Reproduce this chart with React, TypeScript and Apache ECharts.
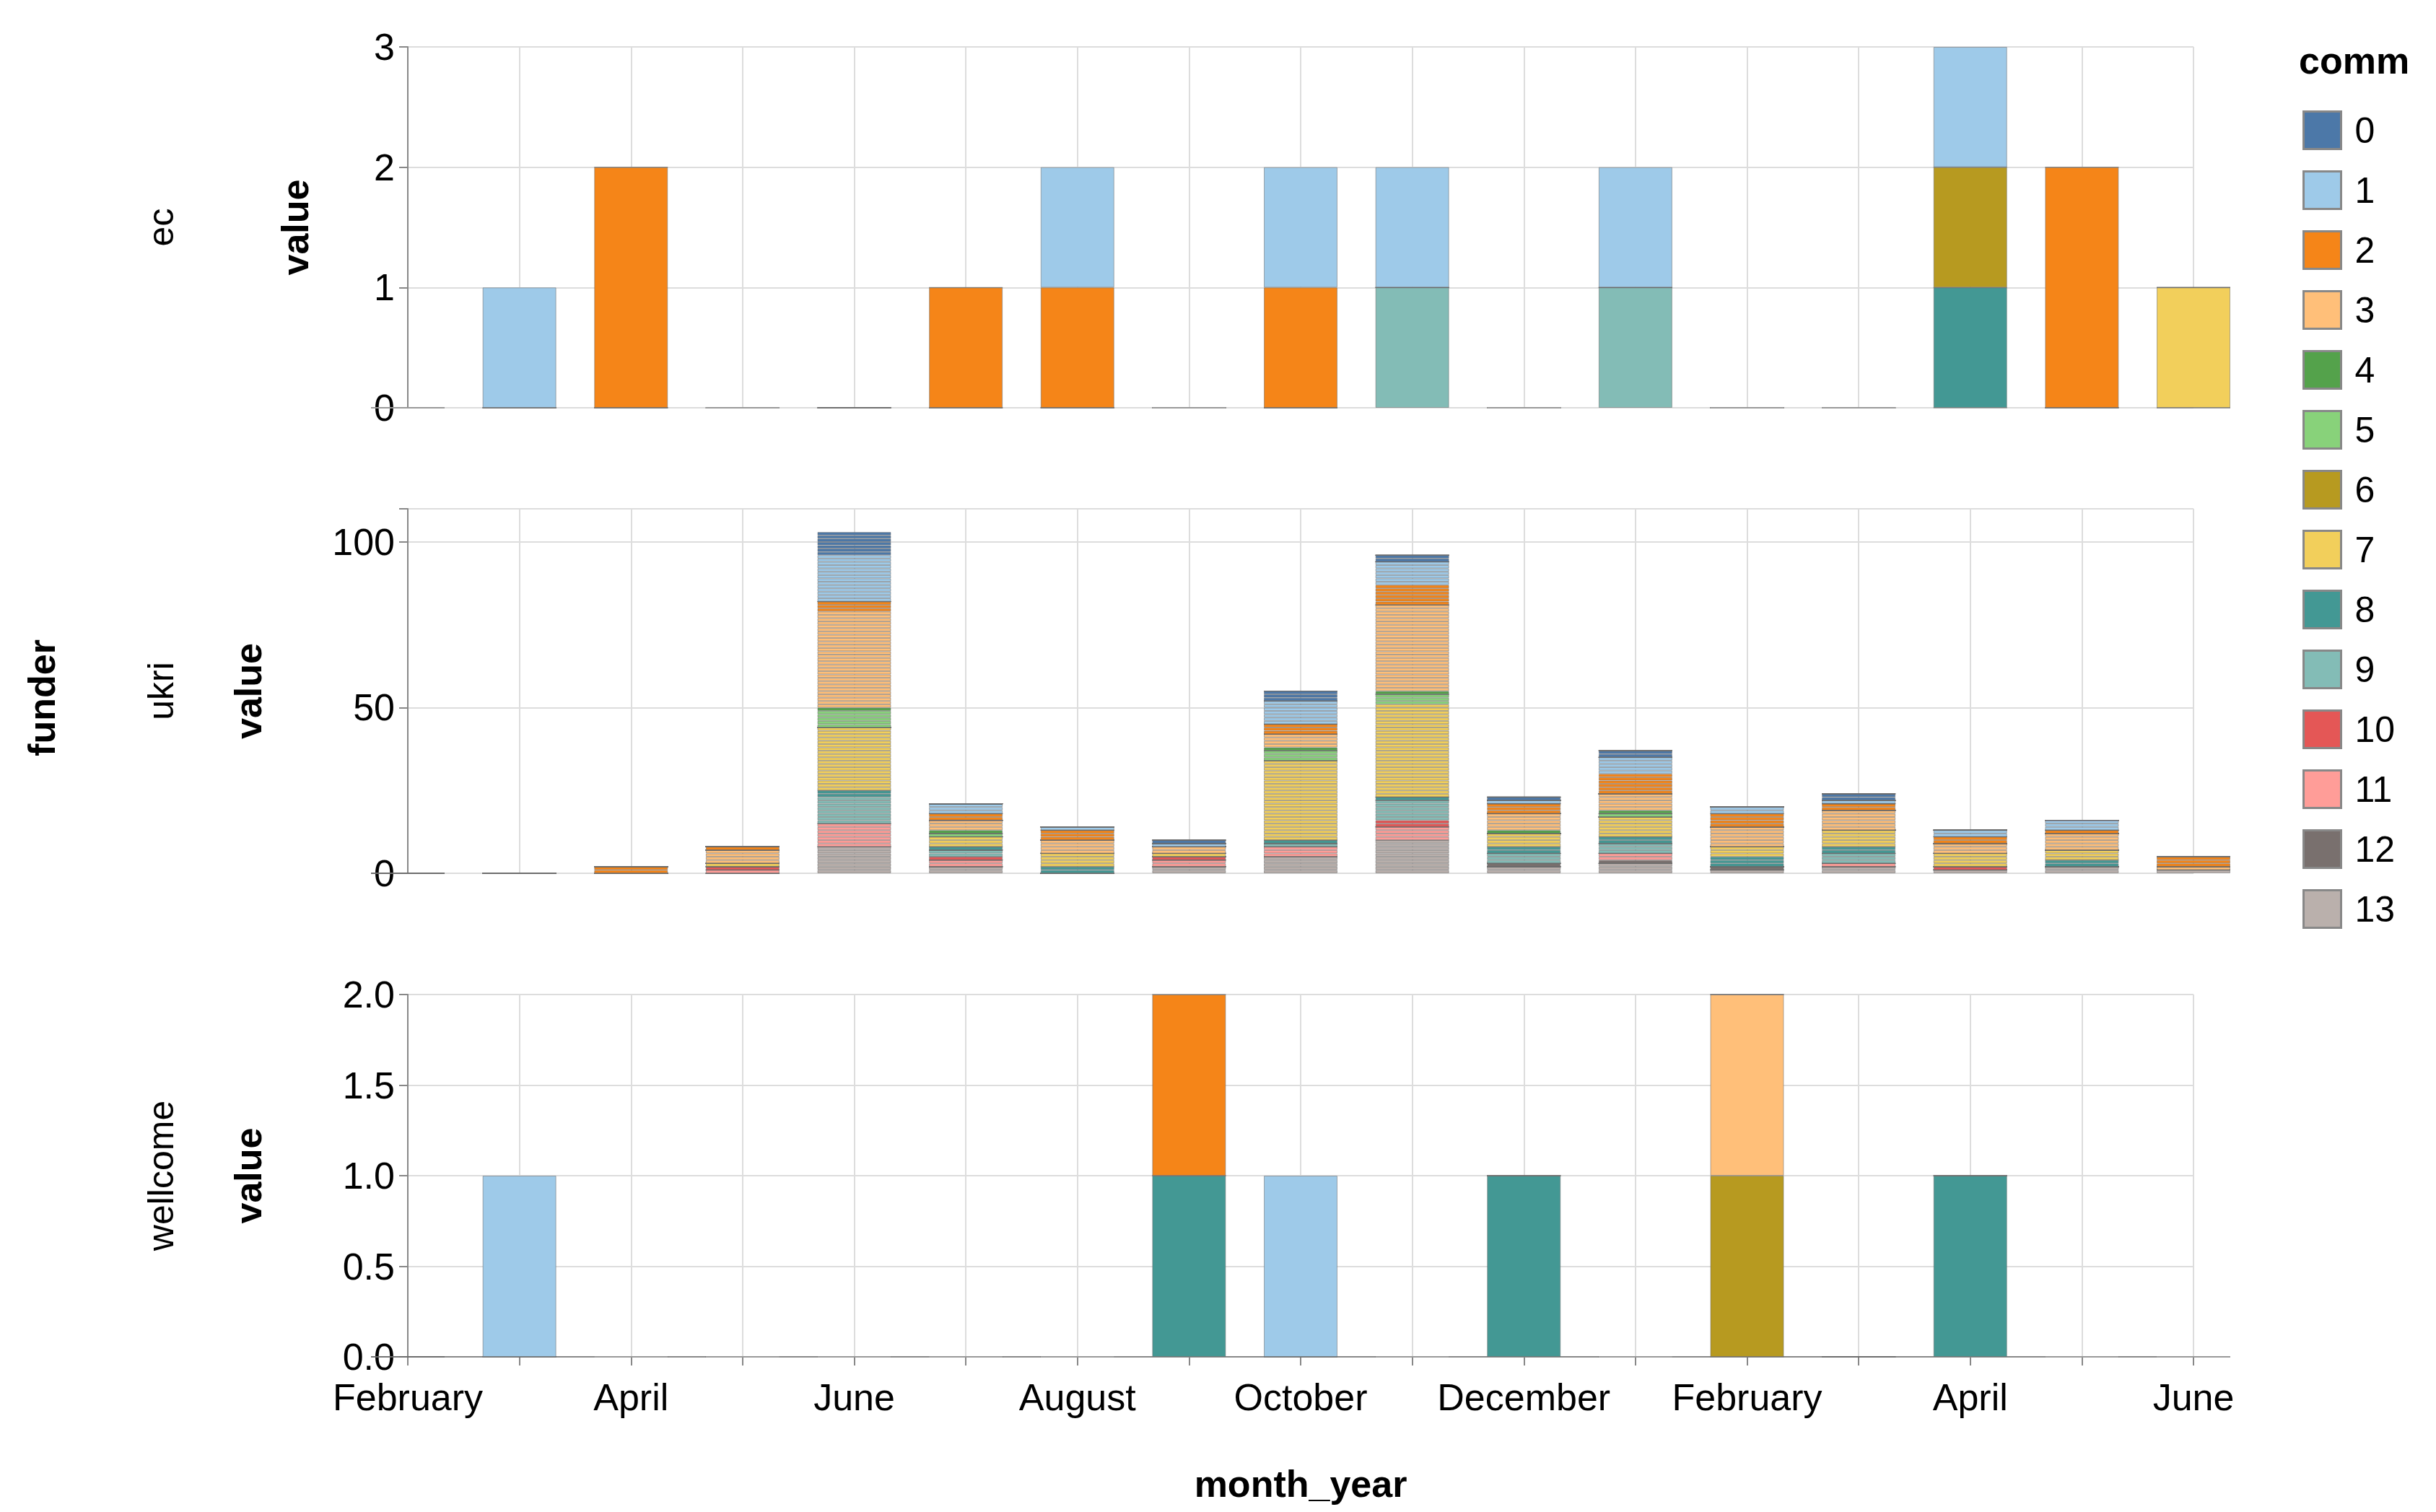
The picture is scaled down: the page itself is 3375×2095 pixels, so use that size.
import { useEffect, useRef } from "react";
import * as echarts from "echarts";

const months = ["February", "March", "April", "May", "June", "July", "August", "September", "October", "November", "December", "January", "February", "March", "April", "May", "June"];
const comms = ["0", "1", "2", "3", "4", "5", "6", "7", "8", "9", "10", "11", "12", "13"];
const colors = ["#4c78a8", "#9ecae9", "#f58518", "#ffbf79", "#54a24b", "#88d27a", "#b79a20", "#f2cf5b", "#439894", "#83bcb6", "#e45756", "#ff9d98", "#79706e", "#bab0ac"];

// counts per month (index into months) per comm
const ecCounts: Record<string, number[]> = {
  "1": [0, 1, 0, 0, 0, 0, 1, 0, 1, 1, 0, 1, 0, 0, 1, 0, 0],
  "2": [0, 0, 2, 0, 0, 1, 1, 0, 1, 0, 0, 0, 0, 0, 0, 2, 0],
  "6": [0, 0, 0, 0, 0, 0, 0, 0, 0, 0, 0, 0, 0, 0, 1, 0, 0],
  "7": [0, 0, 0, 0, 0, 0, 0, 0, 0, 0, 0, 0, 0, 0, 0, 0, 1],
  "8": [0, 0, 0, 0, 0, 0, 0, 0, 0, 0, 0, 0, 0, 0, 1, 0, 0],
  "9": [0, 0, 0, 0, 0, 0, 0, 0, 0, 1, 0, 1, 0, 0, 0, 0, 0],
};
const ecZeros = [0, 3, 7, 10, 12, 13];

const ukriCounts: Record<string, number[]> = {
  "0": [0, 0, 0, 0, 7, 0, 0, 1, 3, 2, 1, 2, 0, 2, 0, 0, 0],
  "1": [0, 0, 0, 0, 14, 3, 1, 1, 7, 7, 1, 5, 2, 1, 2, 3, 0],
  "2": [0, 0, 2, 1, 3, 2, 3, 0, 3, 6, 3, 6, 4, 2, 2, 1, 3],
  "3": [0, 0, 0, 4, 29, 3, 4, 2, 4, 26, 5, 5, 6, 6, 3, 5, 1],
  "4": [0, 0, 0, 0, 1, 1, 0, 0, 1, 1, 1, 1, 0, 0, 0, 0, 0],
  "5": [0, 0, 0, 0, 5, 1, 0, 0, 3, 3, 0, 1, 0, 0, 0, 0, 0],
  "7": [0, 0, 0, 1, 19, 3, 4, 1, 24, 28, 4, 6, 3, 5, 4, 3, 0],
  "8": [0, 0, 0, 0, 2, 1, 2, 0, 1, 1, 2, 2, 3, 2, 0, 2, 0],
  "9": [0, 0, 0, 0, 8, 2, 0, 0, 1, 6, 3, 3, 0, 3, 0, 0, 0],
  "10": [0, 0, 0, 1, 0, 1, 0, 1, 0, 2, 0, 0, 0, 0, 1, 0, 0],
  "11": [0, 0, 0, 1, 7, 2, 0, 2, 3, 4, 0, 2, 0, 1, 0, 0, 0],
  "12": [0, 0, 0, 0, 0, 0, 0, 0, 0, 0, 1, 1, 1, 0, 0, 0, 0],
  "13": [0, 0, 0, 0, 8, 2, 0, 2, 5, 10, 2, 3, 1, 2, 1, 2, 1],
};

const wellcomeCounts: Record<string, number[]> = {
  "1": [0, 1, 0, 0, 0, 0, 0, 0, 1, 0, 0, 0, 0, 0, 0, 0, 0],
  "2": [0, 0, 0, 0, 0, 0, 0, 1, 0, 0, 0, 0, 0, 0, 0, 0, 0],
  "3": [0, 0, 0, 0, 0, 0, 0, 0, 0, 0, 0, 0, 1, 0, 0, 0, 0],
  "6": [0, 0, 0, 0, 0, 0, 0, 0, 0, 0, 0, 0, 1, 0, 0, 0, 0],
  "8": [0, 0, 0, 0, 0, 0, 0, 1, 0, 0, 1, 0, 0, 0, 1, 0, 0],
};
const wellcomeZeros = [2, 3, 4, 5, 6, 9, 11, 15, 16];

const FONT = "'Liberation Sans', Arial, sans-serif";
const BAR = 102;
const BORDER = "rgba(110,110,110,0.55)";

function buildSeries(idx: number, counts: Record<string, number[]>, zeros: number[], expand: boolean) {
  const out: any[] = [];
  const base = { type: "bar", xAxisIndex: idx, yAxisIndex: idx, stack: "s" + idx, barWidth: BAR };
  for (let ci = comms.length - 1; ci >= 0; ci--) {
    const c = comms[ci];
    const arr = counts[c];
    if (!arr) continue;
    const style = { color: colors[ci], borderColor: BORDER, borderWidth: 1 };
    if (expand) {
      const max = Math.max(...arr);
      for (let k = 0; k < max; k++) {
        out.push({ ...base, name: c, itemStyle: style, data: arr.map((v) => (v > k ? 1 : 0)) });
      }
    } else {
      out.push({ ...base, name: c, itemStyle: style, data: arr.map((v) => (v > 0 ? v : 0)) });
    }
  }
  out.push({
    ...base,
    name: "zero",
    itemStyle: { color: "#999", borderColor: "#999", borderWidth: 2 },
    data: months.map((_, m) => (zeros.includes(m) ? 0 : "-")),
  });
  return out;
}

const grids = [
  { top: 65, height: 500 },
  { top: 705, height: 505 },
  { top: 1378, height: 502 },
];
const yCfg = [
  { max: 3, interval: 1, gap: 130, fmt: (v: number) => String(v) },
  { max: 110, interval: 50, gap: 195, fmt: (v: number) => (v > 100 ? "" : String(v)) },
  { max: 2, interval: 0.5, gap: 195, fmt: (v: number) => v.toFixed(1) },
];
const facets = ["ec", "ukri", "wellcome"];

export default function App() {
  const ref = useRef<HTMLDivElement>(null);
  useEffect(() => {
    document.body.style.margin = "0";
    if (!ref.current) return;
    const chart = echarts.init(ref.current, undefined, { renderer: "svg" });
    const option = {
      animation: false,
      backgroundColor: "#fff",
      textStyle: { fontFamily: FONT },
      grid: grids.map((g) => ({ left: 565, width: 2474, top: g.top, height: g.height })),
      xAxis: grids.map((_, i) => ({
        type: "category",
        gridIndex: i,
        data: months,
        boundaryGap: false,
        axisLine: { show: i === 2, lineStyle: { color: "#888", width: 2 } },
        axisTick: { show: i === 2, interval: 0, length: 12, lineStyle: { color: "#888", width: 2 } },
        axisLabel: {
          show: i === 2,
          interval: 1,
          fontSize: 52,
          color: "#000",
          margin: 30,
          fontFamily: FONT,
        },
        splitLine: { show: true, interval: 0, lineStyle: { color: "#ddd", width: 2 } },
        name: i === 2 ? "month_year" : "",
        nameLocation: "middle",
        nameGap: 150,
        nameTextStyle: { fontSize: 52, fontWeight: "bold", color: "#000", fontFamily: FONT },
      })),
      yAxis: yCfg.map((y, i) => ({
        type: "value",
        gridIndex: i,
        min: 0,
        max: y.max,
        interval: y.interval,
        axisLine: { show: true, lineStyle: { color: "#888", width: 2 } },
        axisTick: { show: true, length: 12, lineStyle: { color: "#888", width: 2 } },
        axisLabel: { formatter: y.fmt, fontSize: 52, color: "#000", fontFamily: FONT, margin: 18 },
        splitLine: { lineStyle: { color: "#ddd", width: 2 } },
        name: "value",
        nameLocation: "middle",
        nameGap: y.gap,
        nameTextStyle: { fontSize: 52, fontWeight: "bold", color: "#000", fontFamily: FONT },
      })),
      legend: {
        data: comms,
        orient: "vertical",
        left: 3185,
        top: 148,
        icon: "rect",
        itemWidth: 52,
        itemHeight: 52,
        itemGap: 28,
        itemStyle: { borderColor: "#888", borderWidth: 3 },
        textStyle: { fontSize: 50, color: "#000", fontFamily: FONT, padding: [0, 0, 0, 14] },
        selectedMode: false,
      },
      graphic: [
        { type: "text", left: 3185, top: 58, style: { text: "comm", font: `bold 52px ${FONT}`, fill: "#000" } },
        { type: "text", x: 58, y: 967, rotation: Math.PI / 2, style: { text: "funder", font: `bold 52px ${FONT}`, fill: "#000", align: "center", verticalAlign: "middle" } },
        ...facets.map((f, i) => ({
          type: "text",
          x: 223,
          y: grids[i].top + grids[i].height / 2,
          rotation: Math.PI / 2,
          style: { text: f, font: `50px ${FONT}`, fill: "#000", align: "center", verticalAlign: "middle" },
        })),
      ],
      series: [
        ...buildSeries(0, ecCounts, ecZeros, false),
        ...buildSeries(1, ukriCounts, [], true),
        ...buildSeries(2, wellcomeCounts, wellcomeZeros, false),
      ],
    };
    chart.setOption(option as any);
    return () => chart.dispose();
  }, []);
  return <div ref={ref} style={{ width: 3375, height: 2095 }} />;
}
